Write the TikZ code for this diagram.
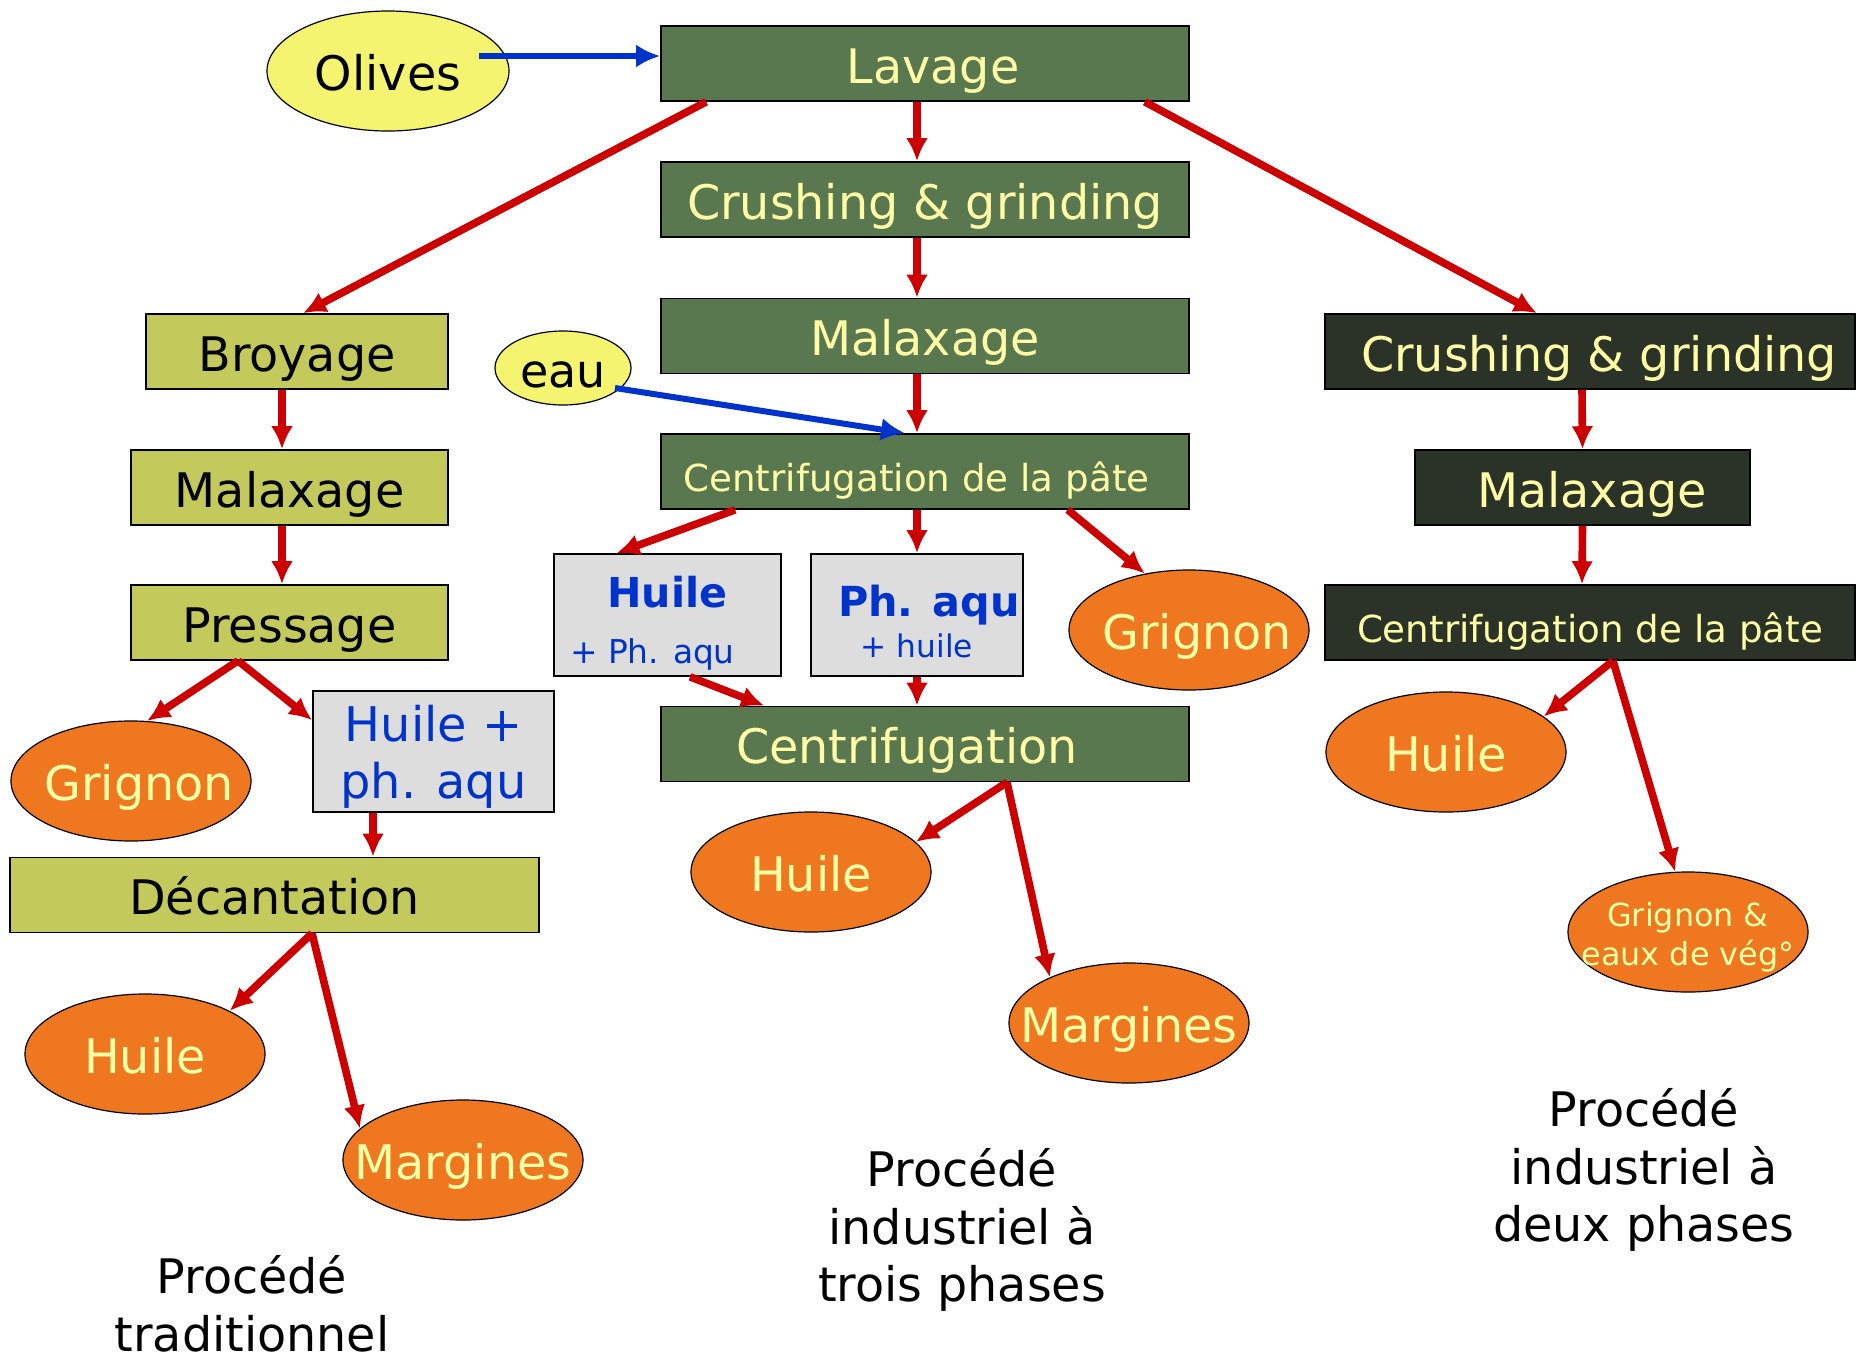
\documentclass[tikz,border=0pt]{standalone}
\usepackage{fontspec}
\setmainfont{DejaVu Sans}
\usetikzlibrary{shapes.geometric,calc,arrows.meta}
\definecolor{boxgreen}{RGB}{90,120,80}
\definecolor{boxolive}{RGB}{196,201,91}
\definecolor{boxdark}{RGB}{43,51,40}
\definecolor{boxgrey}{RGB}{221,221,221}
\definecolor{paleyellow}{RGB}{255,255,165}
\definecolor{olivesyellow}{RGB}{244,244,112}
\definecolor{ovalorange}{RGB}{238,119,32}
\definecolor{textblue}{RGB}{0,51,204}
\definecolor{arrred}{RGB}{204,0,0}
\definecolor{arrblue}{RGB}{0,51,204}
\newcommand\setfs[2]{\fontsize{#1}{#2}\selectfont}
\begin{document}
\begin{tikzpicture}[x=0.5pt,y=-0.5pt,
 box/.style={draw,line width=0.8pt,minimum height=37.5pt,inner sep=0pt,text height=19.5pt,text depth=0pt,font=\setfs{23.8}{28.5}},
 greenbox/.style={box,fill=boxgreen,text=paleyellow},
 olivebox/.style={box,fill=boxolive},
 darkbox/.style={box,fill=boxdark,text=paleyellow},
 greybox/.style={box,fill=boxgrey,text=textblue,align=center},
 oval/.style={ellipse,draw,line width=0.6pt,fill=ovalorange,text=paleyellow,minimum width=120pt,minimum height=60pt,inner ysep=0pt,inner xsep=-30pt,text height=19pt,text depth=0pt,font=\setfs{23.8}{28.5}},
 arr/.style={draw=arrred,line width=3.8pt,-{Latex[length=11.5pt,width=11pt]}},
 bluearr/.style={draw=arrblue,line width=3pt,-{Latex[length=12pt,width=11.5pt]}},
 caption/.style={align=center,font=\setfs{23.8}{28.8}}]
\useasboundingbox (0,0) rectangle (1865,1366);
\node[oval,fill=olivesyellow,text=black,minimum width=121pt] (olives) at (388,71) {Olives};
\node[greenbox,minimum width=264pt] (lavage) at (925,63.5) {\hspace*{8pt}Lavage};
\node[greenbox,minimum width=264pt] (crush) at (925,199.5) {Crushing \& grinding};
\node[greenbox,minimum width=264pt] (malax) at (925,336) {Malaxage};
\node[greenbox,minimum width=264pt,font=\setfs{18.6}{22}] (centp) at (925,471.5) {Centrifugation de la pâte\hspace*{8.5pt}};
\node[oval,fill=olivesyellow,text=black,minimum width=68pt,minimum height=37pt,font=\setfs{23}{27}] (eau) at (563,368) {eau};
\node[greybox,minimum width=113.5pt,minimum height=61pt,text height=48pt,text depth=0pt,font=\setfs{16.4}{28}] (huilebox) at (667.5,615) {{\bfseries\setfs{20.6}{28}Huile}\\+ Ph. aqu\hspace*{15pt}};
\node[greybox,minimum width=106pt,minimum height=61pt,text height=42pt,text depth=0pt,font=\setfs{15.6}{20.5}] (phbox) at (917,615) {{\bfseries\setfs{20.7}{20.5}\hspace*{12pt}Ph. aqu}\\+ huile};
\node[oval] (grignon) at (1189,630) {\hspace*{8pt}Grignon};
\node[greenbox,minimum width=264pt] (centrif) at (925,744) {Centrifugation\hspace*{18pt}};
\node[oval] (huile) at (811,872) {Huile};
\node[oval] (margines) at (1129,1023) {Margines};
\node[caption] (trois) at (962,1230) {Procédé\\industriel à\\trois phases};
\node[olivebox,minimum width=151pt] (broyage) at (297,351.5) {Broyage};
\node[olivebox,minimum width=158.5pt] (malaxL) at (289.5,487.5) {Malaxage};
\node[olivebox,minimum width=158.5pt] (pressL) at (289.5,622.5) {Pressage};
\node[oval] (grignonL) at (131,781) {\hspace*{8pt}Grignon};
\node[greybox,minimum width=120.5pt,minimum height=60.5pt,text height=46.5pt,text depth=0pt,font=\setfs{23.9}{28.5}] (huilephL) at (433.5,751.5) {Huile +\\ph. aqu};
\node[olivebox,minimum width=264.5pt] (decant) at (274.5,895) {Décantation};
\node[oval] (huileL) at (145,1054) {Huile};
\node[oval] (marginesL) at (463,1160) {Margines};
\node[caption] (trad) at (252,1304) {Procédé\\traditionnel};
\node[darkbox,minimum width=265pt] (crushR) at (1590,351.5) {\hspace*{9pt}Crushing \& grinding};
\node[darkbox,minimum width=167.5pt] (malaxR) at (1582.5,487.5) {\hspace*{9.5pt}Malaxage};
\node[darkbox,minimum width=265pt,font=\setfs{18.6}{22}] (centR) at (1590,622.5) {Centrifugation de la pâte};
\node[oval] (huileR) at (1446,752) {Huile};
\node[oval,font=\setfs{15.9}{19.5},align=center,text height=33pt,text depth=0pt] (grigR) at (1688,932) {Grignon \&\\eaux de vég°};
\node[caption] (deux) at (1644,1170) {Procédé\\industriel à\\deux phases};
\draw[bluearr] ($(olives.center)+(91,-15)$) -- ($(lavage.west)+(0,-7.5)$);
\draw[arr] ($(lavage.south)+(-8,0)$) -- ($(crush.north)+(-8,0)$);
\draw[arr] ($(lavage.south west)+(46,0)$) -- ($(broyage.north)+(6,0)$);
\draw[arr] ($(lavage.south east)+(-45,0)$) -- ($(crushR.north)+(-53,0)$);
\draw[arr] ($(crush.south)+(-8,0)$) -- ($(malax.north)+(-8,0)$);
\draw[arr] ($(malax.south)+(-8,0)$) -- ($(centp.north)+(-8,0)$);
\draw[bluearr] ($(eau.center)+(52,20)$) -- ($(centp.north)+(-20,0)$);
\draw[arr] ($(centp.south west)+(75,0)$) -- ($(huilebox.north)+(-51,0)$);
\draw[arr] ($(centp.south)+(-8,0)$) -- (phbox.north);
\draw[arr] ($(centp.south east)+(-122,0)$) -- (grignon.128);
\draw[arr] ($(huilebox.south)+(22.5,0)$) -- ($(centrif.north west)+(104,0)$);
\draw[arr] (phbox.south) -- ($(centrif.north)+(-8,0)$);
\draw[arr] ($(centrif.south)+(82,0)$) -- (huile.16);
\draw[arr] ($(centrif.south)+(82,0)$) -- (margines.150);
\draw[arr] ($(broyage.south)+(-15,0)$) -- ($(malaxL.north)+(-7.5,0)$);
\draw[arr] ($(malaxL.south)+(-7.5,0)$) -- ($(pressL.north)+(-7.5,0)$);
\draw[arr] ($(pressL.south)+(-51.5,0)$) -- (grignonL.75);
\draw[arr] ($(pressL.south)+(-51.5,0)$) -- ($(huilephL.north west)+(0,30)$);
\draw[arr] ($(huilephL.south)+(-60.5,0)$) -- ($(decant.north)+(98.5,0)$);
\draw[arr] ($(decant.south)+(37.5,0)$) -- (huileL.27);
\draw[arr] ($(decant.south)+(37.5,0)$) -- (marginesL.163);
\draw[arr] ($(crushR.south)+(-8,0)$) -- (malaxR.north);
\draw[arr] (malaxR.south) -- ($(centR.north)+(-8,0)$);
\draw[arr] ($(centR.south)+(23,0)$) -- (huileR.20);
\draw[arr] ($(centR.south)+(23,0)$) -- (grigR.102);
\end{tikzpicture}
\end{document}
